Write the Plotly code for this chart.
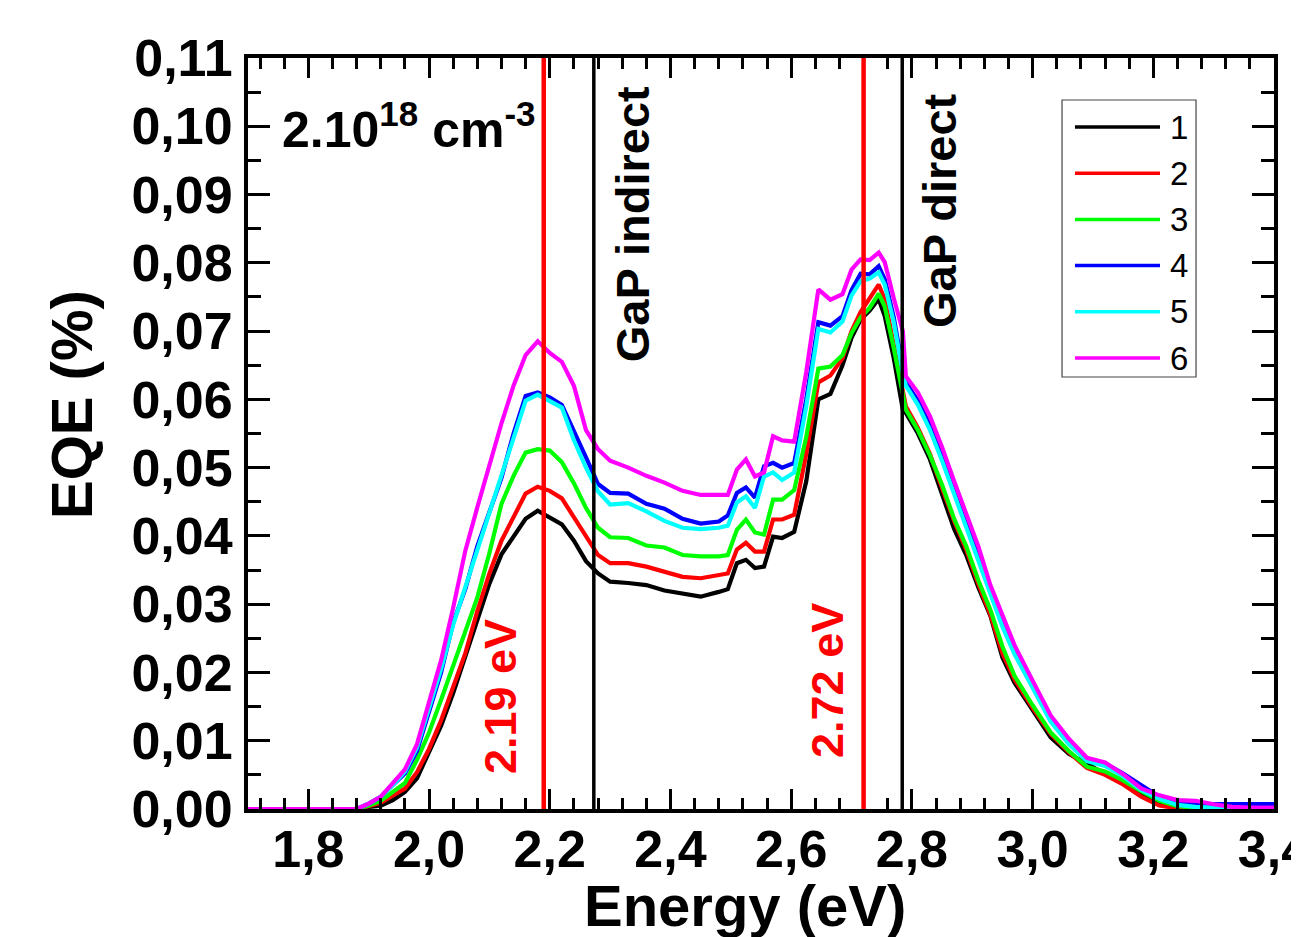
import plotly.graph_objects as go

# ---------------- data ----------------
energy = [1.70, 1.80, 1.88, 1.90, 1.92, 1.94, 1.96, 1.98, 2.00, 2.02, 2.04, 2.06, 2.08, 2.10,
          2.12, 2.14, 2.16, 2.18, 2.20, 2.22, 2.24, 2.26, 2.28, 2.30, 2.33, 2.36, 2.39, 2.42,
          2.45, 2.48, 2.495, 2.51, 2.525, 2.54, 2.555, 2.57, 2.585, 2.605, 2.625, 2.645, 2.665,
          2.685, 2.70, 2.715, 2.73, 2.745, 2.755, 2.77, 2.785, 2.79, 2.81, 2.83, 2.85, 2.87,
          2.89, 2.91, 2.93, 2.95, 2.97, 3.00, 3.03, 3.06, 3.09, 3.12, 3.15, 3.18, 3.21, 3.24,
          3.27, 3.30, 3.33, 3.36, 3.40]

eqe_1 = [0, 0, 0, 0.0003, 0.0005, 0.0013, 0.0025, 0.0045, 0.0082, 0.0122, 0.017, 0.0222, 0.0275, 0.033,
         0.0373, 0.040, 0.0425, 0.0437, 0.0427, 0.0417, 0.0393, 0.0363, 0.0345, 0.0333, 0.0331, 0.0328, 0.032, 0.0316,
         0.0311, 0.0318, 0.0322, 0.036, 0.0365, 0.0353, 0.0355, 0.0399, 0.0397, 0.0406, 0.048, 0.060, 0.0608,
         0.065, 0.069, 0.0717, 0.073, 0.0747, 0.0722, 0.066, 0.0585, 0.058, 0.055, 0.0512, 0.0463, 0.041,
         0.0372, 0.0325, 0.0283, 0.0222, 0.0185, 0.0145, 0.0105, 0.0081, 0.0066, 0.0051, 0.0036, 0.0022, 0.0009, 0.0002,
         0, 0, 0, 0, 0]

eqe_2 = [0, 0, 0, 0.0004, 0.0009, 0.002, 0.003, 0.0054, 0.0088, 0.013, 0.018, 0.0228, 0.029, 0.0345,
         0.0393, 0.0428, 0.0462, 0.0472, 0.0466, 0.0455, 0.0427, 0.0398, 0.0372, 0.036, 0.036, 0.0355, 0.0347, 0.034,
         0.0338, 0.0343, 0.0345, 0.038, 0.039, 0.0377, 0.0377, 0.0424, 0.0424, 0.0431, 0.052, 0.0625, 0.0635,
         0.066, 0.070, 0.0728, 0.0748, 0.0768, 0.0747, 0.068, 0.061, 0.059, 0.0558, 0.052, 0.047, 0.0422,
         0.038, 0.033, 0.0285, 0.0228, 0.019, 0.0148, 0.011, 0.0083, 0.006, 0.005, 0.0036, 0.0018, 0.0005, 0.0001,
         0, 0, 0, 0, 0]

eqe_3 = [0, 0, 0, 0.0005, 0.0012, 0.0025, 0.0038, 0.0072, 0.0112, 0.016, 0.021, 0.0256, 0.031, 0.0375,
         0.0447, 0.0488, 0.0522, 0.0527, 0.0525, 0.0508, 0.0477, 0.0441, 0.0412, 0.0398, 0.0397, 0.0386, 0.0383, 0.0372,
         0.037, 0.037, 0.0372, 0.0409, 0.0424, 0.0405, 0.0402, 0.0453, 0.0453, 0.0467, 0.0545, 0.0645, 0.0648,
         0.0665, 0.0697, 0.072, 0.0734, 0.0755, 0.0736, 0.0675, 0.0604, 0.0585, 0.0555, 0.0518, 0.0475, 0.0425,
         0.0385, 0.0335, 0.0292, 0.0238, 0.0195, 0.0152, 0.0112, 0.0085, 0.0062, 0.0055, 0.0042, 0.0026, 0.0012, 0.0004,
         0.0002, 0.0001, 0.0001, 0.0001, 0.0001]

eqe_4 = [0, 0, 0, 0.0008, 0.0018, 0.0035, 0.0052, 0.0085, 0.014, 0.020, 0.0273, 0.0322, 0.0385, 0.0437,
         0.0485, 0.055, 0.0605, 0.061, 0.0603, 0.0592, 0.0555, 0.0515, 0.0476, 0.0463, 0.0462, 0.0447, 0.044, 0.0425,
         0.0418, 0.0421, 0.043, 0.0463, 0.0471, 0.0456, 0.0502, 0.0507, 0.050, 0.0507, 0.060, 0.0713, 0.0708,
         0.0722, 0.076, 0.0784, 0.0783, 0.0795, 0.0776, 0.072, 0.0644, 0.0625, 0.0598, 0.0562, 0.0518, 0.047,
         0.0422, 0.0372, 0.032, 0.0272, 0.0232, 0.018, 0.0132, 0.0098, 0.0073, 0.0067, 0.0052, 0.0035, 0.0018, 0.0008,
         0.0007, 0.0007, 0.0007, 0.0007, 0.0007]

eqe_5 = [0, 0, 0, 0.0008, 0.0018, 0.0035, 0.0055, 0.009, 0.0145, 0.0205, 0.027, 0.0325, 0.038, 0.0435,
         0.0485, 0.0545, 0.0598, 0.0607, 0.0598, 0.0588, 0.054, 0.050, 0.0465, 0.0446, 0.0448, 0.0436, 0.0422, 0.0412,
         0.041, 0.0412, 0.0415, 0.0449, 0.0458, 0.0441, 0.0487, 0.0493, 0.0482, 0.0493, 0.059, 0.0703, 0.0698,
         0.0714, 0.0752, 0.0773, 0.0777, 0.0786, 0.0768, 0.0713, 0.0639, 0.062, 0.0592, 0.0555, 0.051, 0.0462,
         0.0415, 0.0365, 0.0315, 0.0267, 0.0227, 0.0176, 0.0128, 0.0095, 0.007, 0.0063, 0.0048, 0.0028, 0.0015, 0.0006,
         0.0003, 0.0002, 0.0001, 0.0001, 0.0001]

eqe_6 = [0, 0, 0, 0.0008, 0.0018, 0.0038, 0.0058, 0.0095, 0.0158, 0.0218, 0.0295, 0.0378, 0.0442, 0.0505,
         0.0565, 0.062, 0.0665, 0.0685, 0.0668, 0.0655, 0.062, 0.0555, 0.0527, 0.051, 0.050, 0.0488, 0.0478, 0.0466,
         0.046, 0.046, 0.046, 0.0497, 0.0512, 0.0487, 0.0493, 0.0546, 0.054, 0.0538, 0.064, 0.0761, 0.0746,
         0.0754, 0.079, 0.0805, 0.0804, 0.0815, 0.0801, 0.0748, 0.070, 0.0634, 0.061, 0.0575, 0.053, 0.048,
         0.0432, 0.0385, 0.0328, 0.0283, 0.024, 0.0188, 0.0137, 0.0103, 0.0075, 0.0068, 0.0051, 0.003, 0.002, 0.0013,
         0.0012, 0.0007, 0.0003, 0.0002, 0.0002]

series_names = ["1", "2", "3", "4", "5", "6"]
series_values = [eqe_1, eqe_2, eqe_3, eqe_4, eqe_5, eqe_6]
series_colors = ["#000000", "#FF0000", "#00FF00", "#0000FF", "#00FFFF", "#FF00FF"]

peak_energies = [2.19, 2.72]           # red markers
peak_labels = ["2.19 eV", "2.72 eV"]
gap_energies = [2.273, 2.784]          # black markers
gap_labels = ["GaP indirect", "GaP direct"]

FONT = "Liberation Sans, Arial, Helvetica, sans-serif"

fig = go.Figure()
for name, vals, col in zip(series_names, series_values, series_colors):
    fig.add_trace(go.Scatter(x=energy, y=vals, mode="lines", name=name,
                             line=dict(color=col, width=4.2), showlegend=False))

shapes = []
for e in peak_energies:
    shapes.append(dict(type="line", xref="x", yref="paper", x0=e, x1=e, y0=0, y1=1,
                       line=dict(color="#FF0000", width=4.5)))
for e in gap_energies:
    shapes.append(dict(type="line", xref="x", yref="paper", x0=e, x1=e, y0=0, y1=1,
                       line=dict(color="#000000", width=3.5)))

annotations = []
label_pos = [(2.1176, 0.0164), (2.661, 0.0189)]
for txt, (ax, ay) in zip(peak_labels, label_pos):
    annotations.append(dict(text=txt, x=ax, y=ay, xref="x", yref="y", textangle=-90,
                            showarrow=False,
                            font=dict(family=FONT, size=45, color="#FF0000", weight="bold")))
gap_pos = [(2.3385, 0.0857), (2.8467, 0.0876)]
for txt, (ax, ay) in zip(gap_labels, gap_pos):
    annotations.append(dict(text=txt, x=ax, y=ay, xref="x", yref="y", textangle=-90,
                            showarrow=False,
                            font=dict(family=FONT, size=47, color="black", weight="bold")))

annotations += [
    dict(text="2.10<sup>18</sup> cm<sup>-3</sup>", x=1.753, y=0.1000, xref="x", yref="y",
         xanchor="left", yanchor="middle", showarrow=False,
         font=dict(family=FONT, size=50, color="black", weight="bold")),
    dict(text="Energy (eV)", x=0.4844, y=-0.083, xref="paper", yref="paper",
         xanchor="center", yanchor="top", showarrow=False,
         font=dict(family=FONT, size=58, color="black", weight="bold")),
    dict(text="EQE (%)", x=-0.1715, y=0.538, xref="paper", yref="paper", textangle=-90,
         xanchor="center", yanchor="middle", showarrow=False,
         font=dict(family=FONT, size=58, color="black", weight="bold")),
]

# ---- legend drawn as a framed key (paper coordinates) ----
leg_x0, leg_x1, leg_y0, leg_y1 = 0.7934, 0.924, 0.5752, 0.9441
shapes.append(dict(type="rect", xref="paper", yref="paper", x0=leg_x0, x1=leg_x1, y0=leg_y0, y1=leg_y1,
                   line=dict(color="#444444", width=1.2), fillcolor="white", layer="above"))
row_top, row_step = 0.9081, 0.06152
for i, (name, col) in enumerate(zip(series_names, series_colors)):
    yy = row_top - i * row_step
    shapes.append(dict(type="line", xref="paper", yref="paper", x0=0.806, x1=0.8889, y0=yy, y1=yy,
                       line=dict(color=col, width=3.5), layer="above"))
    annotations.append(dict(text=name, x=0.8967, y=yy, xref="paper", yref="paper",
                            xanchor="left", yanchor="middle", showarrow=False,
                            font=dict(family=FONT, size=33, color="black")))

axis_common = dict(showline=True, linewidth=4, linecolor="black", mirror="allticks",
                   ticks="inside", tickwidth=3, tickcolor="black", showgrid=False, zeroline=False,
                   ticklabeloverflow="allow", automargin=False,
                   tickfont=dict(family=FONT, size=52, color="black", weight="bold"))

fig.update_layout(
    width=1299, height=937,
    margin=dict(l=240, r=33, t=50, b=136),
    plot_bgcolor="white", paper_bgcolor="white",
    separators=",.",
    shapes=shapes, annotations=annotations,
    showlegend=False,
    xaxis=dict(range=[1.7, 3.4], tick0=0, dtick=0.2, tickformat=".1f", ticklen=20,
               ticklabelstandoff=-8,
               minor=dict(ticks="inside", dtick=0.04, tick0=0, ticklen=11, tickwidth=3, tickcolor="black"),
               **axis_common),
    yaxis=dict(range=[0, 0.11], tick0=0, dtick=0.01, tickformat=".2f", ticklen=22,
               ticklabelstandoff=1,
               minor=dict(ticks="inside", dtick=0.005, tick0=0, ticklen=13, tickwidth=3, tickcolor="black"),
               **axis_common),
)

fig.write_html("out.html")
